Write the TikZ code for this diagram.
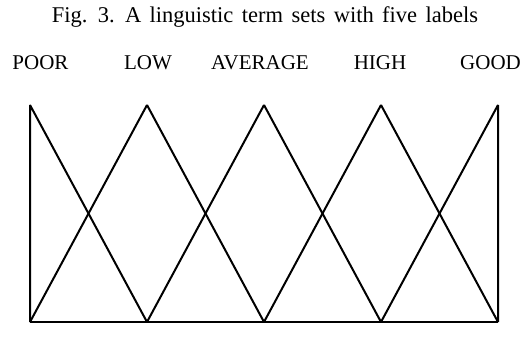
\documentclass[tikz,border=0pt]{standalone}
\usepackage{fontspec}
\setmainfont{Liberation Serif}
\newfontfamily\captionfont[WordSpace=1.5]{Liberation Serif}
\usetikzlibrary{positioning}

\begin{document}
\begin{tikzpicture}[x=1pt, y=-1pt,
        term/.style={font=\fontsize{21}{25}\selectfont, anchor=base, inner sep=0pt},
        caption/.style={font=\captionfont\fontsize{22.5}{27}\selectfont, anchor=base, inner sep=0pt},
        edge/.style={line width=2pt, draw=black, line join=bevel}
    ]
        \useasboundingbox (0,0) rectangle (521,354);

        % Titulo de la figura
        \node[caption] (tit) at (265,22.5) {Fig. 3. A linguistic term sets with five labels};

        % Etiquetas de los cinco terminos
        \node[term] (poor) at (40.5,69) {POOR};
        \node[term] (low) at (148,69) {LOW};
        \node[term] (avg) at (260,69) {AVERAGE};
        \node[term] (high) at (380,69) {HIGH};
        \node[term] (good) at (490.5,69) {GOOD};

        % Vertices superiores (t) e inferiores (b)
        \foreach \i/\x in {1/30, 2/147, 3/264, 4/381, 5/498} {
            \coordinate (t\i) at (\x,105);
            \coordinate (b\i) at (\x,322);
        }

        % Funciones de pertenencia
        \draw[edge] (b1) -- (t1) -- (b2);
        \draw[edge] (b1) -- (t2) -- (b3);
        \draw[edge] (b2) -- (t3) -- (b4);
        \draw[edge] (b3) -- (t4) -- (b5);
        \draw[edge] (b4) -- (t5) -- (b5);

        % Eje inferior
        \draw[edge] (b1) -- (b5);
    \end{tikzpicture}
\end{document}
